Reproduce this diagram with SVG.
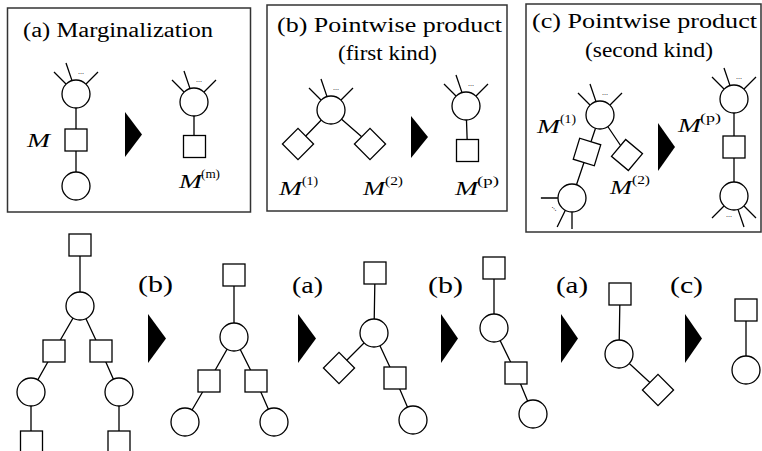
<svg xmlns="http://www.w3.org/2000/svg" xmlns:xlink="http://www.w3.org/1999/xlink" width="762" height="451" viewBox="0 0 762 451">
<style>
.box{fill:none;stroke:#333;stroke-width:1.5}
.ln{stroke:#000;stroke-width:1.3;fill:none}
.sh{fill:#fff;stroke:#000;stroke-width:1.3}
.tri{fill:#000}
text{font-family:'Liberation Serif','Noto Serif','DejaVu Serif',serif;fill:#000}
.t{font-size:20px}
.lb{font-size:23px}
.m{font-size:19px;font-style:italic}
.sp{font-size:13px}
.dots{font-size:8px}
</style>
<defs>
<g id="spk">
<path class="ln" d="M-10,-10 L-22,-22 M-4,-13.4 L-10,-31 M10,-10 L22,-22"/>
<text class="dots" x="2" y="-20">...</text>
</g>
<rect id="sq" x="-11" y="-11" width="22" height="22" class="sh"/>
<circle id="cir" r="14" class="sh"/>
</defs>

<g id="panel-a">
<rect class="box" x="7.5" y="8" width="243" height="204"/>
<text class="t" x="23" y="37" textLength="190" lengthAdjust="spacingAndGlyphs">(a) Marginalization</text>
</g>
<g id="panel-b">
<rect class="box" x="267" y="5" width="240" height="206"/>
<text class="t" x="277" y="32" textLength="225" lengthAdjust="spacingAndGlyphs">(b) Pointwise product</text>
<text class="t" x="338" y="60" textLength="99" lengthAdjust="spacingAndGlyphs">(first kind)</text>
</g>
<g id="panel-c">
<rect class="box" x="526" y="4" width="235" height="228"/>
<text class="t" x="532" y="28" textLength="225" lengthAdjust="spacingAndGlyphs">(c) Pointwise product</text>
<text class="t" x="585" y="57" textLength="128" lengthAdjust="spacingAndGlyphs">(second kind)</text>
</g>

<g id="connectors" class="ln">
<path d="M76,94 L76,186 M194,102 L194,146"/>
<path d="M331,110 L298,144 M331,110 L370,144 M466,106 L467.5,150"/>
<path d="M600,115 L572,198 M600,115 L627,155 M734,99 L734,196"/>
<path d="M80,245 L80,306 L54,351 L31,392 L31,445 M80,306 L101,351 L119,392 L119,445"/>
<path d="M234,275 L234,337 L209,381 L185,422 M234,337 L256,381 L274,422"/>
<path d="M375,273 L374,333 L339,368 M374,333 L395,378 L413,420"/>
<path d="M494,268 L494,328 L516,373 L533,414"/>
<path d="M620,294 L619,354 L658,390"/>
<path d="M746,310 L746,370"/>
</g>

<g id="arrows">
<polygon class="tri" points="125,112 142,134.5 125,157"/>
<polygon class="tri" points="411,116 428,137 411,158"/>
<polygon class="tri" points="658,123 675,147 658,171"/>
<polygon class="tri" points="148,314 166,338.5 148,363"/>
<polygon class="tri" points="298,314 316,338.5 298,363"/>
<polygon class="tri" points="441,314 458,338.5 441,363"/>
<polygon class="tri" points="561,314 578,338.5 561,363"/>
<polygon class="tri" points="685,314 702,338.5 685,363"/>
</g>

<g id="a-left">
<use xlink:href="#spk" transform="translate(76,94)"/>
<use xlink:href="#cir" x="76" y="94"/>
<use xlink:href="#sq" x="76" y="140"/>
<use xlink:href="#cir" x="76" y="186"/>
<text class="m" x="27" y="147" textLength="23" lengthAdjust="spacingAndGlyphs">M</text>
</g>
<g id="a-right">
<use xlink:href="#spk" transform="translate(194,102)"/>
<use xlink:href="#cir" x="194" y="102"/>
<use xlink:href="#sq" x="194.5" y="146.5"/>
<text class="m" x="179" y="188" textLength="23" lengthAdjust="spacingAndGlyphs">M</text>
<text class="sp" x="201" y="178" textLength="19" lengthAdjust="spacingAndGlyphs">(m)</text>
</g>

<g id="b-left">
<use xlink:href="#spk" transform="translate(331,110)"/>
<use xlink:href="#cir" x="331" y="110"/>
<use xlink:href="#sq" transform="translate(298,144) rotate(45)"/>
<use xlink:href="#sq" transform="translate(370,144) rotate(45)"/>
<text class="m" x="279" y="195" textLength="23" lengthAdjust="spacingAndGlyphs">M</text>
<text class="sp" x="302" y="185" textLength="16" lengthAdjust="spacingAndGlyphs">(1)</text>
<text class="m" x="363" y="195" textLength="22" lengthAdjust="spacingAndGlyphs">M</text>
<text class="sp" x="385" y="185" textLength="18" lengthAdjust="spacingAndGlyphs">(2)</text>
</g>
<g id="b-right">
<use xlink:href="#spk" transform="translate(466,106)"/>
<use xlink:href="#cir" x="466" y="106"/>
<use xlink:href="#sq" x="467.5" y="150.5"/>
<text class="m" x="455" y="195" textLength="23" lengthAdjust="spacingAndGlyphs">M</text>
<text class="sp" x="477" y="185" textLength="22" lengthAdjust="spacingAndGlyphs">(p)</text>
</g>

<g id="c-left">
<use xlink:href="#spk" transform="translate(600,115)"/>
<use xlink:href="#spk" transform="translate(572,198) rotate(-135)"/>
<use xlink:href="#cir" x="600" y="115"/>
<use xlink:href="#sq" transform="translate(587,152) rotate(17)"/>
<use xlink:href="#sq" transform="translate(627,155) rotate(40)"/>
<use xlink:href="#cir" x="572" y="198"/>
<text class="m" x="537" y="133" textLength="23" lengthAdjust="spacingAndGlyphs">M</text>
<text class="sp" x="560" y="123" textLength="16" lengthAdjust="spacingAndGlyphs">(1)</text>
<text class="m" x="610" y="194" textLength="22" lengthAdjust="spacingAndGlyphs">M</text>
<text class="sp" x="632" y="184" textLength="18" lengthAdjust="spacingAndGlyphs">(2)</text>
</g>
<g id="c-right">
<use xlink:href="#spk" transform="translate(734,99)"/>
<use xlink:href="#spk" transform="translate(734,196) rotate(180)"/>
<use xlink:href="#cir" x="734" y="99"/>
<use xlink:href="#sq" x="734" y="147"/>
<use xlink:href="#cir" x="734" y="196"/>
<text class="m" x="678" y="132" textLength="23" lengthAdjust="spacingAndGlyphs">M</text>
<text class="sp" x="700" y="122" textLength="21" lengthAdjust="spacingAndGlyphs">(p)</text>
</g>

<g id="tree1">
<use xlink:href="#sq" x="80" y="245"/>
<use xlink:href="#cir" x="80" y="306"/>
<use xlink:href="#sq" x="54" y="351"/>
<use xlink:href="#sq" x="101" y="351"/>
<use xlink:href="#cir" x="31" y="392"/>
<use xlink:href="#cir" x="119" y="392"/>
<use xlink:href="#sq" x="31.5" y="442"/>
<use xlink:href="#sq" x="119" y="442"/>
</g>
<text class="lb" x="138" y="292" textLength="35" lengthAdjust="spacingAndGlyphs">(b)</text>
<g id="tree2">
<use xlink:href="#sq" x="234" y="275"/>
<use xlink:href="#cir" x="234" y="337"/>
<use xlink:href="#sq" x="209" y="381"/>
<use xlink:href="#sq" x="256" y="381"/>
<use xlink:href="#cir" x="185" y="422"/>
<use xlink:href="#cir" x="274" y="422"/>
</g>
<text class="lb" x="292" y="293" textLength="31" lengthAdjust="spacingAndGlyphs">(a)</text>
<g id="tree3">
<use xlink:href="#sq" x="375" y="273"/>
<use xlink:href="#cir" x="374" y="333"/>
<use xlink:href="#sq" transform="translate(339,368) rotate(45)"/>
<use xlink:href="#sq" x="395" y="378"/>
<use xlink:href="#cir" x="413" y="420"/>
</g>
<text class="lb" x="428" y="293" textLength="35" lengthAdjust="spacingAndGlyphs">(b)</text>
<g id="tree4">
<use xlink:href="#sq" x="494" y="268"/>
<use xlink:href="#cir" x="494" y="328"/>
<use xlink:href="#sq" x="516" y="373"/>
<use xlink:href="#cir" x="533" y="414"/>
</g>
<text class="lb" x="556" y="293" textLength="32" lengthAdjust="spacingAndGlyphs">(a)</text>
<g id="tree5">
<use xlink:href="#sq" x="620" y="294"/>
<use xlink:href="#cir" x="619" y="354"/>
<use xlink:href="#sq" transform="translate(658,390) rotate(45)"/>
</g>
<text class="lb" x="670" y="293" textLength="33" lengthAdjust="spacingAndGlyphs">(c)</text>
<g id="tree6">
<use xlink:href="#sq" x="746" y="310"/>
<use xlink:href="#cir" x="746" y="370"/>
</g>
</svg>
